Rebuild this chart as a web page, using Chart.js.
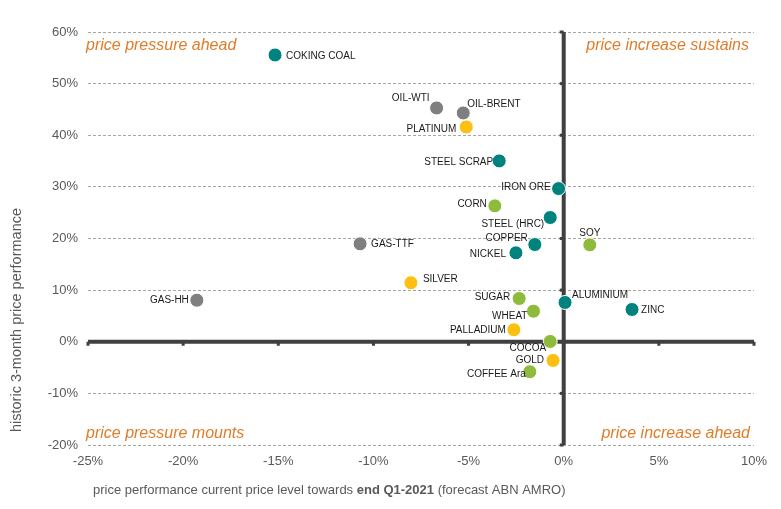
<!DOCTYPE html>
<html>
<head>
<meta charset="utf-8">
<script src="https://cdn.jsdelivr.net/npm/chart.js@4.4.0/dist/chart.umd.min.js"></script>
<style>
    html, body { margin: 0; padding: 0; background: #fff; }
    #wrap { width: 781px; height: 509px; }
</style>
</head>
<body>
<div id="wrap"><canvas id="chart" width="781" height="509"></canvas></div>
<script>
// base metals & ferrous (teal)
const metalNames = ['COKING COAL', 'STEEL SCRAP', 'IRON ORE', 'STEEL (HRC)', 'COPPER', 'NICKEL', 'ALUMINIUM', 'ZINC'];
const metalX = [-15.17, -3.39, -0.27, -0.71, -1.52, -2.51, 0.07, 3.59];
const metalY = [55.55, 35.03, 29.67, 24.06, 18.83, 17.22, 7.61, 6.25];

// energy (grey)
const energyNames = ['OIL-WTI', 'OIL-BRENT', 'GAS-TTF', 'GAS-HH'];
const energyX = [-6.68, -5.28, -10.70, -19.28];
const energyY = [45.29, 44.32, 18.97, 8.05];

// precious metals (yellow)
const preciousNames = ['PLATINUM', 'SILVER', 'PALLADIUM', 'GOLD'];
const preciousX = [-5.12, -8.03, -2.62, -0.56];
const preciousY = [41.61, 11.42, 2.32, -3.62];

// agriculture (green)
const agriNames = ['CORN', 'SOY', 'SUGAR', 'WHEAT', 'COCOA', 'COFFEE Ara'];
const agriX = [-3.62, 1.37, -2.34, -1.59, -0.71, -1.78];
const agriY = [26.32, 18.77, 8.38, 5.92, 0.06, -5.81];

// axis ticks (percent)
const xTicks = [-25, -20, -15, -10, -5, 0, 5, 10];
const yTicks = [-20, -10, 0, 10, 20, 30, 40, 50, 60];

// label placement: [textAlign, dx, dy] relative to the point centre
const labelPlace = {
    'COKING COAL': ['left', 11, 1],
    'OIL-WTI': ['right', -7, -10],
    'OIL-BRENT': ['left', 4, -9],
    'PLATINUM': ['right', -10, 2],
    'STEEL SCRAP': ['right', -6, 1],
    'IRON ORE': ['right', -8, -1],
    'CORN': ['right', -8, -2],
    'STEEL (HRC)': ['right', -6, 7],
    'COPPER': ['right', -7, -6],
    'NICKEL': ['right', -10, 1],
    'SOY': ['center', 0, -12],
    'GAS-TTF': ['left', 11, 0],
    'SILVER': ['left', 12, -4],
    'GAS-HH': ['right', -8, 0],
    'SUGAR': ['right', -9, -1],
    'ALUMINIUM': ['left', 7, -7],
    'ZINC': ['left', 9, 1],
    'WHEAT': ['right', -6, 5],
    'PALLADIUM': ['right', -8, 0],
    'COCOA': ['right', -4, 7],
    'GOLD': ['right', -9, 0],
    'COFFEE Ara': ['right', -4, 3]
};

const COLORS = {
    metal: '#00837f',
    energy: '#7f7f7f',
    precious: '#fdbf12',
    agri: '#8fbb3c'
};
const ORANGE = '#e07d2a';
const GREY_TEXT = '#595959';
const SANS = "'Liberation Sans', Arial, sans-serif";

function makeSet(names, xs, ys, color) {
    return {
        names: names,
        data: xs.map((v, i) => ({ x: v, y: ys[i] })),
        backgroundColor: color,
        borderColor: '#ffffff',
        borderWidth: 1,
        pointRadius: 7,
        pointHoverRadius: 7
    };
}

// thick zero axes, little tick marks, quadrant captions, point labels, axis titles
const quadrantPlugin = {
    id: 'quadrants',
    beforeDatasetsDraw(chart) {
        const { ctx, chartArea: a, scales: { x, y } } = chart;
        const x0 = x.getPixelForValue(0);
        const y0 = y.getPixelForValue(0);
        ctx.save();
        ctx.strokeStyle = '#404040';
        ctx.lineWidth = 4;
        ctx.beginPath();
        ctx.moveTo(a.left, y0);
        ctx.lineTo(a.right, y0);
        ctx.moveTo(x0, a.top);
        ctx.lineTo(x0, a.bottom);
        ctx.stroke();
        ctx.fillStyle = '#404040';
        xTicks.forEach(v => {
            const px = x.getPixelForValue(v);
            ctx.fillRect(px - 1.5, y0, 3, 4);
        });
        yTicks.forEach(v => {
            const py = y.getPixelForValue(v);
            ctx.fillRect(x0 - 4, py - 1.5, 4, 3);
        });

        ctx.fillStyle = ORANGE;
        ctx.font = 'italic 16px ' + SANS;
        ctx.textBaseline = 'middle';
        ctx.textAlign = 'left';
        ctx.fillText('price pressure ahead', 86, 46);
        ctx.fillText('price pressure mounts', 86, 434);
        ctx.textAlign = 'right';
        ctx.fillText('price increase sustains', 749, 46);
        ctx.fillText('price increase ahead', 750, 434);
        ctx.restore();
    },
    afterDatasetsDraw(chart) {
        const { ctx } = chart;
        ctx.save();
        ctx.font = '10px ' + SANS;
        ctx.fillStyle = '#1a1a1a';
        ctx.textBaseline = 'middle';
        chart.data.datasets.forEach((ds, di) => {
            const meta = chart.getDatasetMeta(di);
            meta.data.forEach((pt, i) => {
                const name = ds.names[i];
                const p = labelPlace[name] || ['left', 10, 0];
                ctx.textAlign = p[0];
                ctx.fillText(name, pt.x + p[1], pt.y + p[2]);
            });
        });
        ctx.restore();
    },
    afterDraw(chart) {
        const { ctx } = chart;
        ctx.save();
        ctx.fillStyle = GREY_TEXT;
        // y title
        ctx.font = '14.5px ' + SANS;
        ctx.textAlign = 'center';
        ctx.textBaseline = 'middle';
        ctx.translate(17, 320);
        ctx.rotate(-Math.PI / 2);
        ctx.fillText('historic 3-month price performance', 0, 0);
        ctx.restore();

        // x title with bold part
        ctx.save();
        ctx.fillStyle = GREY_TEXT;
        ctx.textAlign = 'left';
        ctx.textBaseline = 'middle';
        const parts = [
            ['', 'price performance current price level towards '],
            ['bold ', 'end Q1-2021'],
            ['', ' (forecast ABN AMRO)']
        ];
        let cx = 93;
        parts.forEach(([w, t]) => {
            ctx.font = w + '13px ' + SANS;
            ctx.fillText(t, cx, 490);
            cx += ctx.measureText(t).width;
        });
        ctx.restore();
    }
};

new Chart(document.getElementById('chart'), {
    type: 'scatter',
    data: {
        datasets: [
            makeSet(energyNames, energyX, energyY, COLORS.energy),
            makeSet(preciousNames, preciousX, preciousY, COLORS.precious),
            makeSet(agriNames, agriX, agriY, COLORS.agri),
            makeSet(metalNames, metalX, metalY, COLORS.metal)
        ]
    },
    options: {
        responsive: false,
        animation: false,
        layout: { padding: { top: 32, right: 27, left: 0, bottom: 0 } },
        plugins: {
            legend: { display: false },
            tooltip: { enabled: false }
        },
        scales: {
            x: {
                type: 'linear',
                min: -25,
                max: 10,
                afterBuildTicks: s => { s.ticks = xTicks.map(v => ({ value: v })); },
                afterFit: s => { s.height = 64; },
                grid: { display: false, drawTicks: false },
                border: { display: false },
                ticks: {
                    padding: 9,
                    color: GREY_TEXT,
                    font: { family: SANS, size: 13 },
                    callback: v => v + '%'
                }
            },
            y: {
                type: 'linear',
                min: -20,
                max: 60,
                afterBuildTicks: s => { s.ticks = yTicks.map(v => ({ value: v })); },
                afterFit: s => { s.width = 88; },
                grid: {
                    color: '#a6a6a6',
                    lineWidth: 1,
                    drawTicks: false
                },
                border: { display: false, dash: [3, 2] },
                ticks: {
                    padding: 10,
                    color: GREY_TEXT,
                    font: { family: SANS, size: 13 },
                    callback: v => v + '%'
                }
            }
        }
    },
    plugins: [quadrantPlugin]
});
</script>
</body>
</html>
